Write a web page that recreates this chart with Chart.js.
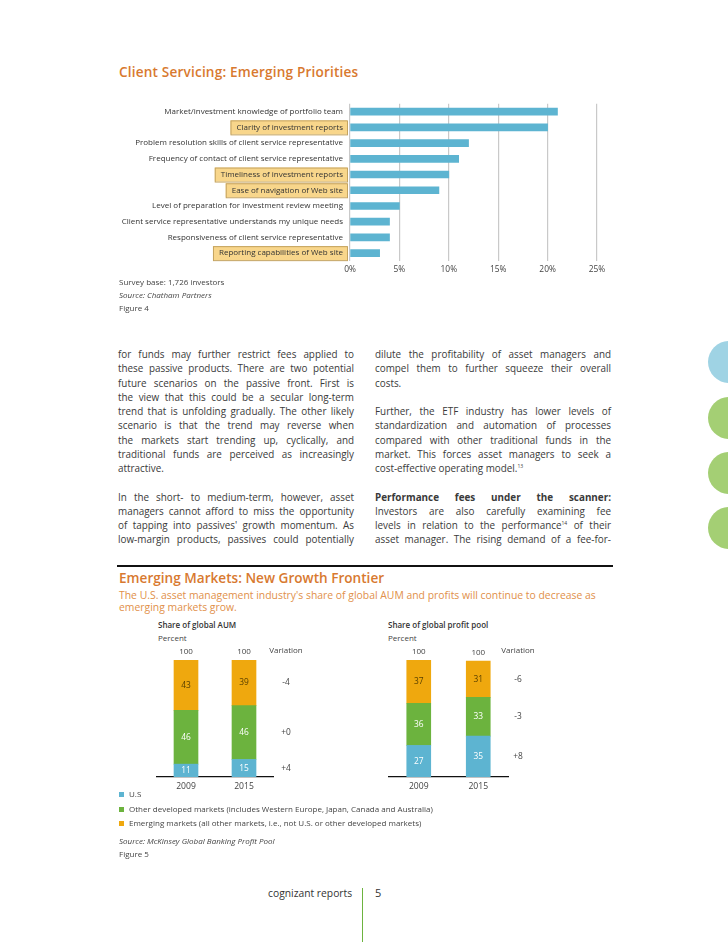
<!DOCTYPE html>
<html lang="en">
<head>
<meta charset="UTF-8">
<title>Client Servicing / Emerging Markets</title>
<script src="https://cdn.jsdelivr.net/npm/chart.js"></script>
<style>
  body { margin: 0; background: #fff; font-family: "Open Sans", sans-serif; color: #3c3c3c; }
  #page { position: relative; width: 728px; height: 943px; overflow: hidden; }
  .abs { position: absolute; }
  canvas { position: absolute; }
  .title { color: #d8792f; font-weight: 600; white-space: nowrap; font-size: 13.6px; }
  .note { font-size: 8px; color: #444; white-space: nowrap; line-height: 13px; }
  .col { position: absolute; width: 236px; font-size: 9.9px; line-height: 14.25px; color: #3a3a3a; }
  .col div { white-space: nowrap; height: 14.25px; }
  .col .j { text-align: justify; text-align-last: justify; }
  .col sup { font-size: 5px; line-height: 0; vertical-align: 4px; }
  .circle { position: absolute; width: 42px; height: 42px; border-radius: 50%; left: 708px; }
  .legend div { position: relative; padding-left: 10px; font-size: 8px; color: #444; line-height: 14.5px; white-space: nowrap; }
  .legend span { position: absolute; left: 0; top: 5px; width: 5px; height: 5px; }
</style>
</head>
<body>
<div id="page">
  <div class="abs title" style="left:119px; top:62px; letter-spacing:0.18px;">Client Servicing: Emerging Priorities</div>
  <canvas id="priorityChart" width="510" height="190" style="left:110px; top:92px;"></canvas>
  <div class="abs note" style="left:119px; top:275px;">Survey base: 1,726 investors<br><i>Source: Chatham Partners</i><br>Figure 4</div>

  <div class="col" id="colLeft" style="left:118px; top:347px;"></div>
  <div class="col" id="colRight" style="left:375px; top:347px;"></div>

  <div class="circle" style="top:341px; background:#9fd3e4;"></div>
  <div class="circle" style="top:397px; background:#a4cf74;"></div>
  <div class="circle" style="top:452px; background:#a4cf74;"></div>
  <div class="circle" style="top:507px; background:#a4cf74;"></div>

  <div class="abs" style="left:117px; top:565px; width:496px; height:1.5px; background:#111;"></div>
  <div class="abs title" style="left:119px; top:568px;">Emerging Markets: New Growth Frontier</div>
  <div class="abs" style="left:119px; top:589px; white-space:nowrap; font-size:10.4px; line-height:12px; color:#e1904a;">The U.S. asset management industry's share of global AUM and profits will continue to decrease as<br>emerging markets grow.</div>

  <div class="abs note" style="left:158px; top:618px; font-weight:600; color:#333;">Share of global AUM</div>
  <div class="abs note" style="left:158px; top:631px;">Percent</div>
  <div class="abs note" style="left:388px; top:618px; font-weight:600; color:#333;">Share of global profit pool</div>
  <div class="abs note" style="left:388px; top:631px;">Percent</div>
  <canvas id="aumChart" width="200" height="160" style="left:140px; top:640px;"></canvas>
  <canvas id="profitChart" width="180" height="160" style="left:380px; top:640px;"></canvas>

  <div class="abs legend" id="legend" style="left:119px; top:787px;"></div>
  <div class="abs note" style="left:119px; top:834px;"><i>Source: McKinsey Global Banking Profit Pool</i><br>Figure 5</div>

  <div class="abs" style="left:268px; top:886px; font-size:10.3px; color:#333;">cognizant reports</div>
  <div class="abs" style="left:362px; top:888px; width:1px; height:54px; background:#6db33f;"></div>
  <div class="abs" style="left:375px; top:885px; font-size:11px; color:#333;">5</div>
</div>

<script>
  // Figure 4 data
  const priorityLabels = [
    'Market/investment knowledge of portfolio team',
    'Clarity of investment reports',
    'Problem resolution skills of client service representative',
    'Frequency of contact of client service representative',
    'Timeliness of investment reports',
    'Ease of navigation of Web site',
    'Level of preparation for investment review meeting',
    'Client service representative understands my unique needs',
    'Responsiveness of client service representative',
    'Reporting capabilities of Web site'
  ];
  const priorityValues = [21, 20, 12, 11, 10, 9, 5, 4, 4, 3];
  const priorityHighlight = [false, true, false, false, true, true, false, false, false, true];

  // Figure 5 data
  const years = ['2009', '2015'];
  const seriesNames = [
    'U.S',
    'Other developed markets (includes Western Europe, Japan, Canada and Australia)',
    'Emerging markets (all other markets, i.e., not U.S. or other developed markets)'
  ];
  const seriesColors = ['#5db4d1', '#6cb33e', '#efa80e'];
  const seriesTextColors = ['#ffffff', '#ffffff', '#5a4100'];
  const totals = ['100', '100'];
  const aumUS = [11, 15];
  const aumOther = [46, 46];
  const aumEmerging = [43, 39];
  const aumVariation = ['+4', '+0', '-4'];
  const profitUS = [27, 35];
  const profitOther = [36, 33];
  const profitEmerging = [37, 31];
  const profitVariation = ['+8', '-3', '-6'];

  const leftLines = [
    ['for funds may further restrict fees applied to', 1],
    ['these passive products. There are two potential', 1],
    ['future scenarios on the passive front. First is', 1],
    ['the view that this could be a secular long-term', 1],
    ['trend that is unfolding gradually. The other likely', 1],
    ['scenario is that the trend may reverse when', 1],
    ['the markets start trending up, cyclically, and', 1],
    ['traditional funds are perceived as increasingly', 1],
    ['attractive.', 0],
    ['', 0],
    ['In the short- to medium-term, however, asset', 1],
    ['managers cannot afford to miss the opportunity', 1],
    ['of tapping into passives\' growth momentum. As', 1],
    ['low-margin products, passives could potentially', 1]
  ];
  const rightLines = [
    ['dilute the profitability of asset managers and', 1],
    ['compel them to further squeeze their overall', 1],
    ['costs.', 0],
    ['', 0],
    ['Further, the ETF industry has lower levels of', 1],
    ['standardization and automation of processes', 1],
    ['compared with other traditional funds in the', 1],
    ['market. This forces asset managers to seek a', 1],
    ['cost-effective operating model.<sup>13</sup>', 0],
    ['', 0],
    ['<b>Performance fees under the scanner:</b>', 1],
    ['Investors are also carefully examining fee', 1],
    ['levels in relation to the performance<sup>14</sup> of their', 1],
    ['asset manager. The rising demand of a fee-for-', 1]
  ];

  function fillColumn(id, lines) {
    const el = document.getElementById(id);
    lines.forEach(function (l) {
      const d = document.createElement('div');
      if (l[1]) d.className = 'j';
      d.innerHTML = l[0];
      el.appendChild(d);
    });
  }
  fillColumn('colLeft', leftLines);
  fillColumn('colRight', rightLines);

  const legendEl = document.getElementById('legend');
  seriesNames.forEach(function (name, i) {
    const d = document.createElement('div');
    d.innerHTML = '<span style="background:' + seriesColors[i] + '"></span>' + name;
    legendEl.appendChild(d);
  });

  Chart.defaults.font.family = "'Open Sans', sans-serif";
  Chart.defaults.color = '#444';

  const tickFontSize = 8;

  // yellow boxes behind some of the category labels
  const highlightPlugin = {
    id: 'highlightLabels',
    beforeDraw(chart) {
      const ctx = chart.ctx;
      const scale = chart.scales.y;
      ctx.save();
      ctx.font = tickFontSize + "px 'Open Sans', sans-serif";
      priorityLabels.forEach(function (label, i) {
        if (!priorityHighlight[i]) return;
        const py = scale.getPixelForTick(i);
        const right = scale.right - 7;
        const w = ctx.measureText(label).width;
        ctx.fillStyle = '#f8d68b';
        ctx.strokeStyle = '#c4a35f';
        ctx.lineWidth = 1;
        ctx.fillRect(right - w - 6, py - 7, w + 10, 14);
        ctx.strokeRect(right - w - 6 + 0.5, py - 7 + 0.5, w + 10, 14);
      });
      ctx.restore();
    }
  };

  new Chart(document.getElementById('priorityChart'), {
    type: 'bar',
    data: {
      labels: priorityLabels,
      datasets: [{ data: priorityValues, backgroundColor: '#5db4d1', barThickness: 7 }]
    },
    options: {
      indexAxis: 'y',
      responsive: false,
      animation: false,
      layout: { padding: { top: 6, right: 23, left: 0, bottom: 0 } },
      plugins: { legend: { display: false }, tooltip: { enabled: false } },
      scales: {
        x: {
          min: 0, max: 25,
          ticks: { stepSize: 5, padding: 4, font: { size: 8.4 }, color: '#444', callback: v => v + '%' },
          grid: { color: '#c9c9c9', lineWidth: 1.2, drawTicks: false },
          border: { display: false },
          afterFit: s => { s.height = 21; }
        },
        y: {
          ticks: { padding: 7, font: { size: tickFontSize }, color: '#333', autoSkip: false },
          grid: { display: false, drawTicks: false },
          border: { display: false },
          afterFit: s => { s.width = 240; }
        }
      }
    },
    plugins: [highlightPlugin]
  });

  // numbers in the segments, totals above, variation column on the right
  const stackLabelsPlugin = {
    id: 'stackLabels',
    afterDatasetsDraw(chart, args, opts) {
      const ctx = chart.ctx;
      const area = chart.chartArea;
      const vx = area.right + opts.varOffset;
      ctx.save();
      ctx.textAlign = 'center';
      ctx.textBaseline = 'middle';
      ctx.font = "8.4px 'Open Sans', sans-serif";
      chart.data.datasets.forEach(function (ds, di) {
        const meta = chart.getDatasetMeta(di);
        meta.data.forEach(function (bar, i) {
          ctx.fillStyle = seriesTextColors[di];
          ctx.fillText(String(ds.data[i]), bar.x, (bar.y + bar.base) / 2);
        });
        const last = meta.data[meta.data.length - 1];
        ctx.fillStyle = '#444';
        ctx.fillText(opts.variation[di], vx, (last.y + last.base) / 2);
      });
      const topMeta = chart.getDatasetMeta(chart.data.datasets.length - 1);
      ctx.fillStyle = '#444';
      ctx.font = "8px 'Open Sans', sans-serif";
      topMeta.data.forEach(function (bar, i) {
        ctx.fillText(totals[i], bar.x, bar.y - 8);
      });
      ctx.fillText('Variation', vx, area.top - 9);
      ctx.restore();
    }
  };

  function stackedChart(id, us, other, emerging, variation, padLeft, padRight, varOffset) {
    const values = [us, other, emerging];
    return new Chart(document.getElementById(id), {
      type: 'bar',
      data: {
        labels: years,
        datasets: values.map(function (v, i) {
          return { label: seriesNames[i], data: v, backgroundColor: seriesColors[i], barThickness: 24 };
        })
      },
      options: {
        responsive: false,
        animation: false,
        layout: { padding: { top: 20, left: padLeft, right: padRight, bottom: 0 } },
        plugins: {
          legend: { display: false },
          tooltip: { enabled: false },
          stackLabels: { variation: variation, varOffset: varOffset }
        },
        scales: {
          x: {
            stacked: true,
            grid: { display: false, drawTicks: false },
            border: { color: '#111', width: 1.2 },
            ticks: { padding: 4, font: { size: 8.6 }, color: '#444' },
            afterFit: s => { s.height = 23; }
          },
          y: { stacked: true, display: false, min: 0, max: 100 }
        }
      },
      plugins: [stackLabelsPlugin]
    });
  }

  stackedChart('aumChart', aumUS, aumOther, aumEmerging, aumVariation, 17, 67, 13);
  stackedChart('profitChart', profitUS, profitOther, profitEmerging, profitVariation, 9, 52, 10);
</script>
</body>
</html>
